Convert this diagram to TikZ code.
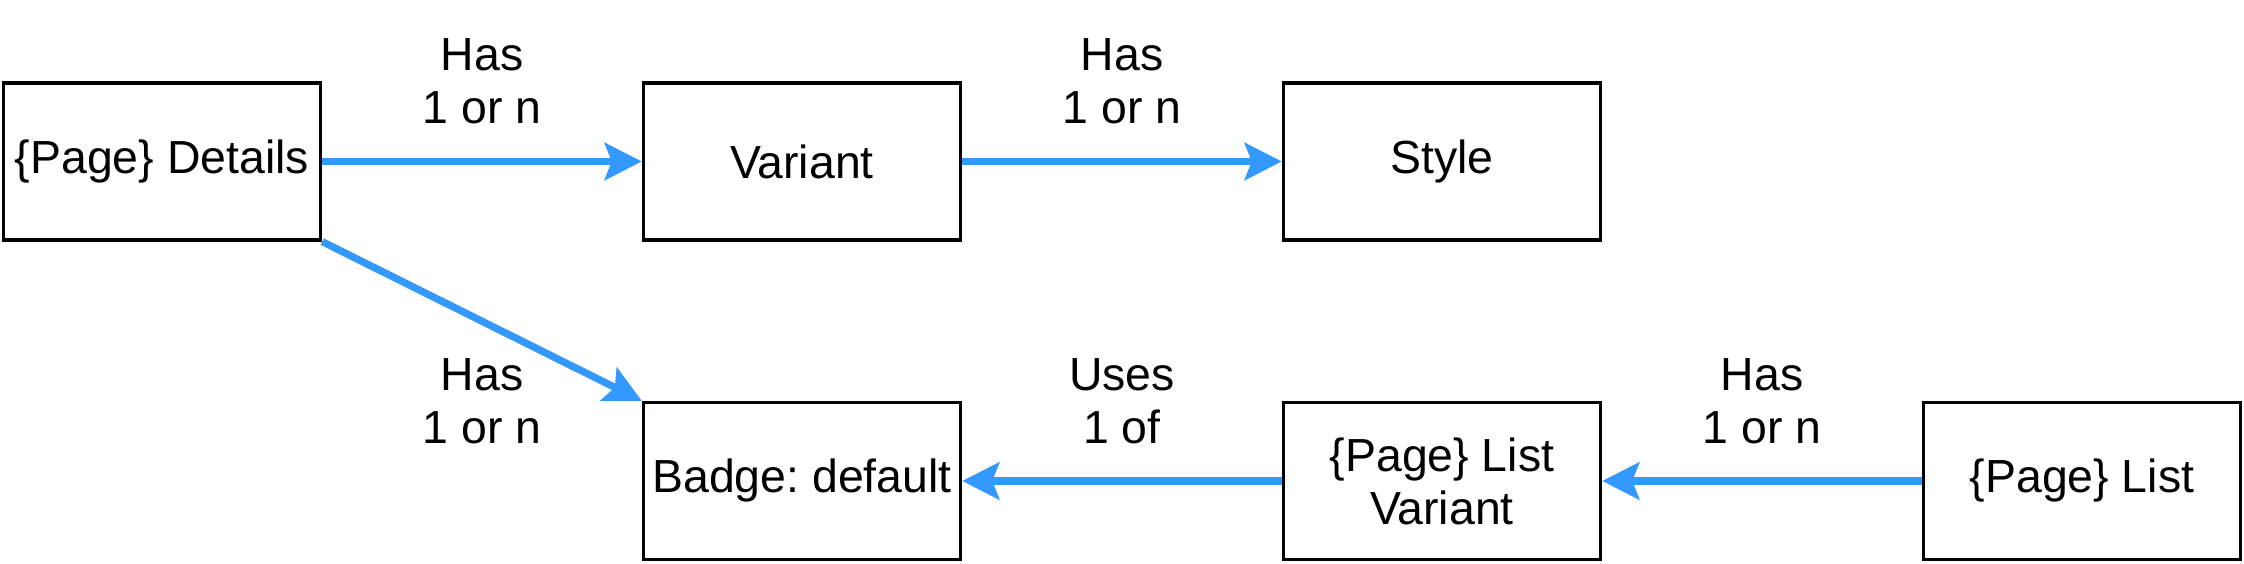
\documentclass[tikz,border=0pt]{standalone}
\usepackage{fontspec}
\setmainfont{Liberation Sans}
\usetikzlibrary{arrows.meta}
\definecolor{link}{HTML}{3399FF}
\definecolor{ink}{HTML}{000000}
\frenchspacing

\begin{document}
\begin{tikzpicture}[x=0.01cm,y=0.01cm,
  font=\fontsize{13.2pt}{15.1pt}\selectfont,
  entity/.style={draw=ink, line width=1pt, minimum width=3.167cm, minimum height=1.567cm, inner sep=0pt, align=center},
  rel/.style={link, line width=2.07pt, -{Stealth[length=0.37cm,width=0.37cm,inset=0.07cm]}},
  lbl/.style={anchor=south, inner sep=0pt, align=center, text=ink}]
\useasboundingbox (0,0) rectangle (2244,564);
% top row
\node[entity] (details) at (162,402.5) {\{Page\} Details};
\node[entity] (variant) at (802,402.5) {Variant};
\node[entity] (style)   at (1442,402.5) {Style};
% bottom row
\node[entity] (badge)     at (802,83)  {Badge: default};
\node[entity] (listvar)   at (1442,83) {\{Page\} List\\Variant};
\node[entity] (pagelist)  at (2082,83) {\{Page\} List};
% relations
\draw[rel] (details) -- node[lbl, yshift=0.335cm] (hasvar) {Has\\1 or n} (variant);
\draw[rel] (variant) -- node[lbl, yshift=0.335cm] (hassty) {Has\\1 or n} (style);
\draw[rel] (details.south east) -- node[lbl, yshift=-1.26cm] (hasbadge) {Has\\1 or n} (badge.north west);
\draw[rel] (listvar) -- node[lbl, yshift=0.335cm] (uses) {Uses\\1 of} (badge);
\draw[rel] (pagelist) -- node[lbl, yshift=0.335cm] (haslv) {Has\\1 or n} (listvar);
\end{tikzpicture}
\end{document}
